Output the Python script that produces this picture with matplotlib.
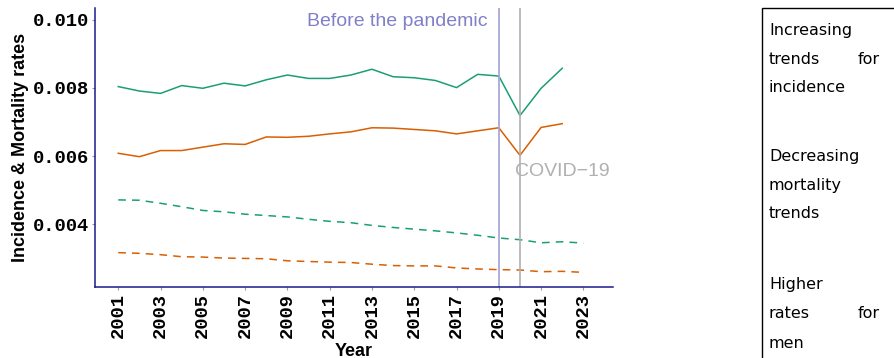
import matplotlib
matplotlib.use("Agg")
import matplotlib.pyplot as plt
from matplotlib.patches import Rectangle

years_inc = list(range(2001, 2023))
years_mort = list(range(2001, 2024))

inc_men = [0.00804, 0.00791, 0.00784, 0.00807, 0.00799, 0.00814, 0.00806, 0.00824,
           0.00838, 0.00828, 0.00828, 0.00838, 0.00855, 0.00833, 0.00830, 0.00822,
           0.00801, 0.00840, 0.00835, 0.00719, 0.00799, 0.00858]
inc_women = [0.00608, 0.00598, 0.00616, 0.00616, 0.00626, 0.00636, 0.00634, 0.00656,
             0.00655, 0.00658, 0.00665, 0.00671, 0.00683, 0.00682, 0.00678, 0.00674,
             0.00665, 0.00674, 0.00683, 0.00602, 0.00684, 0.00695]
mort_men = [0.00471, 0.00470, 0.00461, 0.00451, 0.00440, 0.00436, 0.00429, 0.00425,
            0.00421, 0.00414, 0.00408, 0.00404, 0.00396, 0.00390, 0.00385, 0.00380,
            0.00374, 0.00367, 0.00359, 0.00354, 0.00345, 0.00348, 0.00344]
mort_women = [0.00316, 0.00314, 0.00310, 0.00304, 0.00303, 0.00300, 0.00299, 0.00298,
              0.00292, 0.00290, 0.00288, 0.00287, 0.00282, 0.00278, 0.00277, 0.00277,
              0.00271, 0.00268, 0.00266, 0.00265, 0.00260, 0.00261, 0.00258]

x_ticks = list(range(2001, 2024, 2))
y_ticks = [0.004, 0.006, 0.008, 0.010]
y_tick_labels = ["0.004", "0.006", "0.008", "0.010"]

green = "#1b9e77"
orange = "#d95f02"

fig = plt.figure(figsize=(8.94, 3.58), dpi=100)
ax = fig.add_axes([95/894, 1-287/358, (613-95)/894, (287-8)/358])

ax.plot(years_inc, inc_men, color=green, lw=1.1)
ax.plot(years_inc, inc_women, color=orange, lw=1.1)
ax.plot(years_mort, mort_men, color=green, lw=1.1, ls=(0, (5, 4)))
ax.plot(years_mort, mort_women, color=orange, lw=1.1, ls=(0, (5, 4)))

ax.axvline(2019, color="#a8a8d8", lw=1.3)
ax.axvline(2020, color="#b0b0b0", lw=1.2)

ax.text(2018.45, 0.00995, "Before the pandemic", color="#8080c8", ha="right", va="center",
        fontsize=14, family="Liberation Sans")
ax.text(2019.75, 0.00554, "COVID\u221219", color="#b0b0b0", ha="left", va="center",
        fontsize=14, family="Liberation Sans")

ax.set_xlim(1999.9, 2024.4)
ax.set_ylim(0.00215, 0.01035)
ax.set_xticks(x_ticks)
ax.set_xticklabels([str(y) for y in x_ticks], rotation=90, family="Liberation Mono",
                   fontweight="bold", fontsize=13.5)
ax.set_yticks(y_ticks)
ax.set_yticklabels(y_tick_labels, family="Liberation Mono", fontweight="bold", fontsize=13.5)
ax.tick_params(axis="both", length=2.5, width=0.8, color="#999999", pad=1.5)

for s in ["top", "right"]:
    ax.spines[s].set_visible(False)
for s in ["left", "bottom"]:
    ax.spines[s].set_color("#1a1a8c")
    ax.spines[s].set_linewidth(1.1)

ax.set_xlabel("Year", fontweight="bold", fontsize=13, family="Liberation Sans")
ax.xaxis.set_label_coords(0.5, (287 - 351) / 279)
ax.xaxis.label.set_va("center")
ax.set_ylabel("Incidence & Mortality rates", fontweight="bold", fontsize=13,
              family="Liberation Sans", labelpad=3)

# Right side text box
fig.patches.append(Rectangle((762/894, -0.05), 0.3, 1 - 8/358 + 0.05, transform=fig.transFigure,
                             fill=False, edgecolor="black", lw=1.0))

tf = dict(fontsize=11.5, family="DejaVu Sans", color="black", va="center")
L = 769/894
R = 880/894
def yy(p):
    return 1 - p/358

fig.text(L, yy(30), "Increasing", ha="left", **tf)
fig.text(L, yy(60), "trends", ha="left", **tf)
fig.text(R, yy(60), "for", ha="right", **tf)
fig.text(L, yy(88), "incidence", ha="left", **tf)
fig.text(L, yy(157), "Decreasing", ha="left", **tf)
fig.text(L, yy(186), "mortality", ha="left", **tf)
fig.text(L, yy(214), "trends", ha="left", **tf)
fig.text(L, yy(285), "Higher", ha="left", **tf)
fig.text(L, yy(314), "rates", ha="left", **tf)
fig.text(R, yy(314), "for", ha="right", **tf)
fig.text(L, yy(344), "men", ha="left", **tf)

fig.savefig("out.png", dpi=100)
